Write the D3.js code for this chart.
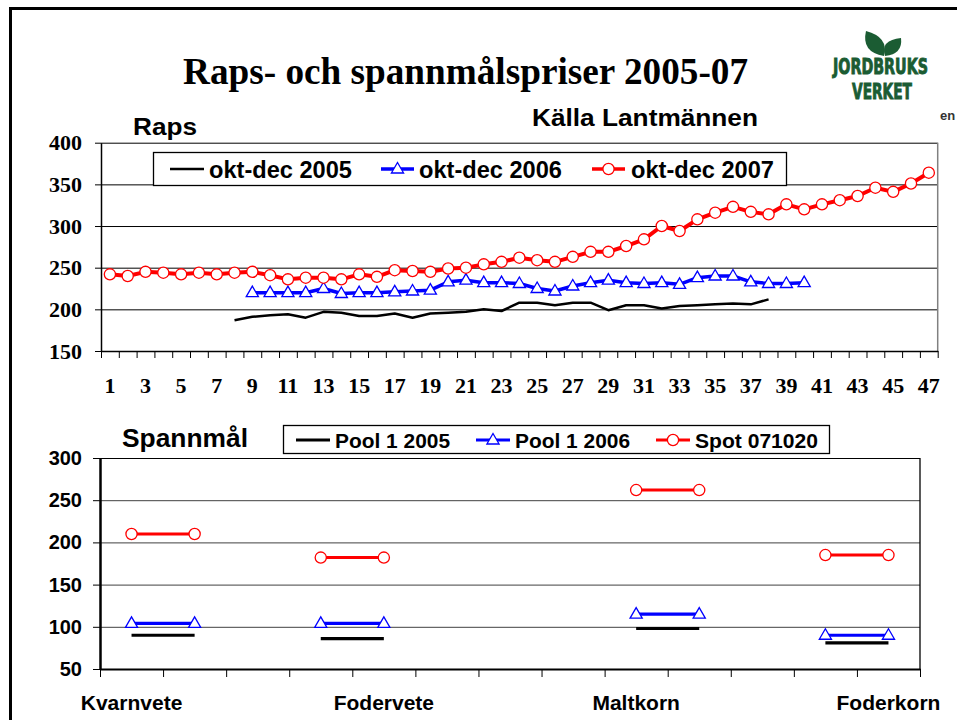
<!DOCTYPE html>
<html>
<head>
<meta charset="utf-8">
<script src="https://cdn.jsdelivr.net/npm/d3@7"></script>
<style>
  html, body { margin: 0; padding: 0; background: #fff; }
  svg { display: block; }
</style>
</head>
<body>
<div id="chart"></div>
<script>
// ---------------- DATA ----------------
const weeks = [1,2,3,4,5,6,7,8,9,10,11,12,13,14,15,16,17,18,19,20,21,22,23,24,25,26,27,28,29,30,31,32,33,34,35,36,37,38,39,40,41,42,43,44,45,46,47];
const rapsYTicks = [150, 200, 250, 300, 350, 400];
const raps2005 = [null,null,null,null,null,null,null,
  187,191,193,194,190,197,196,192,192,195,190,195,196,197,200,198,208,208,205,208,208,199,205,205,201,204,205,206,207,206,212,
  null,null,null,null,null,null,null,null,null];
const raps2006 = [null,null,null,null,null,null,null,null,
  220,220,220,220,225,219,220,220,221,222,223,233,235,232,232,231,225,222,228,232,235,232,231,232,230,238,240,240,233,231,231,232,
  null,null,null,null,null,null,null];
const raps2007 = [242,240,245,244,242,244,242,244,245,241,
  236,238,238,236,242,239,247,246,245,249,
  250,254,257,262,259,257,263,269,269,276,
  284,300,294,308,316,323,317,314,326,320,
  326,331,336,346,341,351,364];
const rapsSeriesNames = ["okt-dec 2005", "okt-dec 2006", "okt-dec 2007"];

const grainLabels = ["Kvarnvete","","","","Fodervete","","","","Maltkorn","","","","Foderkorn"];
const grainYTicks = [50, 100, 150, 200, 250, 300];
const pool2005 = [90,90,null,86,86,null,null,null,98,98,null,81,81];
const pool2006 = [104,104,null,104,104,null,null,null,115,115,null,90,90];
const spot071020 = [210,210,null,182,182,null,null,null,262,262,null,185,185];
const grainSeriesNames = ["Pool 1 2005", "Pool 1 2006", "Spot 071020"];

// ---------------- SETUP ----------------
const W = 957, H = 720;
const SANS = "'Liberation Sans', Arial, Helvetica, sans-serif";
const SERIF = "'Liberation Serif', 'Times New Roman', serif";
const NARROW = "'Liberation Sans Narrow', 'DejaVu Sans Condensed', 'Liberation Sans', Arial, sans-serif";
const RED = "#ff0000", BLUE = "#0000ff", BLACK = "#000000";

const svg = d3.select("#chart").append("svg")
  .attr("width", W).attr("height", H)
  .attr("viewBox", `0 0 ${W} ${H}`);

svg.append("rect").attr("width", W).attr("height", H).attr("fill", "#fff");

// slide frame
svg.append("path").attr("d", `M10.5,${H} V8.5 H${W}`)
  .attr("fill", "none").attr("stroke", "#000").attr("stroke-width", 3);

// Title
svg.append("text").attr("x", 183).attr("y", 84)
  .attr("font-family", SERIF).attr("font-weight", "bold").attr("font-size", 37)
  .attr("textLength", 565).attr("lengthAdjust", "spacingAndGlyphs")
  .text("Raps- och spannmålspriser 2005-07");

// Logo
const GREEN = "#1b5c33";
const logo = svg.append("g");
logo.append("path").attr("d", "M884,56 Q861,52 866,31 Q889,37 884,56 Z").attr("fill", GREEN);
logo.append("path").attr("d", "M885,56 Q880,40 901,38 Q903,54 885,56 Z").attr("fill", GREEN);
logo.append("g").attr("transform", "translate(833,74) scale(1,1.1)")
  .append("text").attr("x", 0).attr("y", 0)
  .attr("font-family", NARROW)
  .attr("font-weight", "bold").attr("font-size", 19).attr("fill", GREEN)
  .attr("stroke", GREEN).attr("stroke-width", 0.8)
  .attr("textLength", 95).attr("lengthAdjust", "spacingAndGlyphs").text("JORDBRUKS");
logo.append("g").attr("transform", "translate(852,99) scale(1,1.1)")
  .append("text").attr("x", 0).attr("y", 0)
  .attr("font-family", NARROW)
  .attr("font-weight", "bold").attr("font-size", 19).attr("fill", GREEN)
  .attr("stroke", GREEN).attr("stroke-width", 0.8)
  .attr("textLength", 60).attr("lengthAdjust", "spacingAndGlyphs").text("VERKET");

svg.append("text").attr("x", 940).attr("y", 120)
  .attr("font-family", SANS).attr("font-weight", "bold").attr("font-size", 13)
  .attr("fill", "#333").text("en");

// Source and subtitles
svg.append("text").attr("x", 532).attr("y", 126)
  .attr("font-family", SANS).attr("font-weight", "bold").attr("font-size", 24)
  .attr("textLength", 226).attr("lengthAdjust", "spacingAndGlyphs")
  .text("Källa Lantmännen");
svg.append("text").attr("x", 133).attr("y", 135)
  .attr("font-family", SANS).attr("font-weight", "bold").attr("font-size", 24)
  .attr("textLength", 64).attr("lengthAdjust", "spacingAndGlyphs")
  .text("Raps");
svg.append("text").attr("x", 122).attr("y", 447)
  .attr("font-family", SANS).attr("font-weight", "bold").attr("font-size", 25)
  .attr("textLength", 126).attr("lengthAdjust", "spacingAndGlyphs")
  .text("Spannmål");

// symbol helpers
const triPath = d3.symbol().type(d3.symbolTriangle).size(64)();
function drawTri(g, x, y, color) {
  g.append("path").attr("d", triPath).attr("transform", `translate(${x},${y + 0.5})`)
    .attr("fill", "#fff").attr("stroke", color).attr("stroke-width", 1.3);
}
function drawCirc(g, x, y, color) {
  g.append("circle").attr("cx", x).attr("cy", y).attr("r", 5.6)
    .attr("fill", "#fff").attr("stroke", color).attr("stroke-width", 1.3);
}

// ---------------- TOP CHART (Raps) ----------------
const tL = 101, tR = 937.7, tT = 142.7, tB = 351;
const xTop = d3.scaleBand().domain(weeks).range([tL, tR]).paddingInner(0).paddingOuter(0);
const xTopEdge = d3.scaleLinear().domain([0, weeks.length]).range([tL, tR]);
const yTop = d3.scaleLinear().domain([150, 400]).range([tB, tT]);

const gTop = svg.append("g");

// grid lines
gTop.append("g").attr("transform", `translate(${tL},0)`)
  .call(d3.axisLeft(yTop).tickValues(rapsYTicks.slice(1)).tickSize(-(tR - tL)).tickFormat(""))
  .call(g => g.select(".domain").remove())
  .call(g => g.selectAll("line").attr("stroke", "#000").attr("stroke-width", 1));

// right plot border
gTop.append("line").attr("x1", tR).attr("x2", tR).attr("y1", tT).attr("y2", tB)
  .attr("stroke", "#808080").attr("stroke-width", 1.5);

// y axis
gTop.append("g").attr("transform", `translate(${tL},0)`)
  .call(d3.axisLeft(yTop).tickValues(rapsYTicks).tickSize(6).tickPadding(13).tickSizeOuter(0))
  .call(g => g.select(".domain").attr("stroke", "#000").attr("stroke-width", 1.5))
  .call(g => g.selectAll("line").attr("stroke", "#000").attr("stroke-width", 1))
  .call(g => g.selectAll("text").attr("font-family", SERIF).attr("font-weight", "bold")
    .attr("font-size", 22).attr("fill", "#000"));

// x axis: tick marks at category boundaries
gTop.append("g").attr("transform", `translate(0,${tB})`)
  .call(d3.axisBottom(xTopEdge).tickValues(d3.range(weeks.length + 1)).tickSize(7).tickFormat("").tickSizeOuter(0))
  .call(g => g.select(".domain").attr("stroke", "#000").attr("stroke-width", 1.5))
  .call(g => g.selectAll("line").attr("stroke", "#000").attr("stroke-width", 1));

// x labels
gTop.append("g").attr("transform", `translate(0,${tB})`)
  .call(d3.axisBottom(xTop).tickValues(weeks.filter(w => w % 2 === 1)).tickSize(0).tickPadding(26))
  .call(g => g.select(".domain").remove())
  .call(g => g.selectAll("text").attr("font-family", SERIF).attr("font-weight", "bold")
    .attr("font-size", 22).attr("fill", "#000"));

const xc = w => xTop(w) + xTop.bandwidth() / 2;
const lineTop = d3.line().defined(d => d.v != null).x(d => xc(d.w)).y(d => yTop(d.v));
const toPts = arr => weeks.map((w, i) => ({ w, v: arr[i] }));

gTop.append("path").datum(toPts(raps2005)).attr("d", lineTop)
  .attr("fill", "none").attr("stroke", BLACK).attr("stroke-width", 2.5).attr("stroke-linejoin", "round");
gTop.append("path").datum(toPts(raps2006)).attr("d", lineTop)
  .attr("fill", "none").attr("stroke", BLUE).attr("stroke-width", 3.5).attr("stroke-linejoin", "round");
gTop.append("path").datum(toPts(raps2007)).attr("d", lineTop)
  .attr("fill", "none").attr("stroke", RED).attr("stroke-width", 4).attr("stroke-linejoin", "round");

const m06 = gTop.append("g");
toPts(raps2006).filter(d => d.v != null).forEach(d => drawTri(m06, xc(d.w), yTop(d.v), BLUE));
const m07 = gTop.append("g");
toPts(raps2007).filter(d => d.v != null).forEach(d => drawCirc(m07, xc(d.w), yTop(d.v), RED));

// top legend
const lg = svg.append("g");
lg.append("rect").attr("x", 153.5).attr("y", 152.5).attr("width", 633).attr("height", 33)
  .attr("fill", "#fff").attr("stroke", "#000").attr("stroke-width", 1.3);
const topLeg = [
  { name: rapsSeriesNames[0], color: BLACK, x1: 170, x2: 204, tx: 209, sym: null, w: 2.5, tl: 143 },
  { name: rapsSeriesNames[1], color: BLUE, x1: 381, x2: 414, tx: 419, sym: "tri", w: 3.5, tl: 143 },
  { name: rapsSeriesNames[2], color: RED, x1: 592, x2: 625, tx: 631, sym: "circ", w: 3.5, tl: 143 }
];
topLeg.forEach(d => {
  const ly = 169;
  lg.append("line").attr("x1", d.x1).attr("x2", d.x2).attr("y1", ly).attr("y2", ly)
    .attr("stroke", d.color).attr("stroke-width", d.w);
  if (d.sym === "tri") drawTri(lg, (d.x1 + d.x2) / 2, ly, d.color);
  if (d.sym === "circ") drawCirc(lg, (d.x1 + d.x2) / 2, ly, d.color);
  lg.append("text").attr("x", d.tx).attr("y", 178)
    .attr("font-family", SANS).attr("font-weight", "bold").attr("font-size", 23)
    .attr("textLength", d.tl).attr("lengthAdjust", "spacingAndGlyphs").text(d.name);
});

// ---------------- BOTTOM CHART (Spannmål) ----------------
const bL = 100, bR = 920, bT = 458, bB = 669;
const idx = d3.range(grainLabels.length);
const xBot = d3.scaleBand().domain(idx).range([bL, bR]);
const xBotEdge = d3.scaleLinear().domain([0, grainLabels.length]).range([bL, bR]);
const yBot = d3.scaleLinear().domain([50, 300]).range([bB, bT]);

const gBot = svg.append("g");

gBot.append("g").attr("transform", `translate(${bL},0)`)
  .call(d3.axisLeft(yBot).tickValues(grainYTicks.slice(1)).tickSize(-(bR - bL)).tickFormat(""))
  .call(g => g.select(".domain").remove())
  .call(g => g.selectAll("line").attr("stroke", d => d === 300 ? "#000" : "#404040").attr("stroke-width", 1));

gBot.append("line").attr("x1", bR).attr("x2", bR).attr("y1", bT).attr("y2", bB)
  .attr("stroke", "#000").attr("stroke-width", 1.3);

gBot.append("g").attr("transform", `translate(${bL},0)`)
  .call(d3.axisLeft(yBot).tickValues(grainYTicks).tickSize(7).tickPadding(11).tickSizeOuter(0))
  .call(g => g.select(".domain").attr("stroke", "#000").attr("stroke-width", 2.5))
  .call(g => g.selectAll("line").attr("stroke", "#000").attr("stroke-width", 1))
  .call(g => g.selectAll("text").attr("font-family", SANS).attr("font-weight", "bold")
    .attr("font-size", 20).attr("fill", "#000"));

gBot.append("g").attr("transform", `translate(0,${bB})`)
  .call(d3.axisBottom(xBotEdge).tickValues(d3.range(grainLabels.length + 1)).tickSize(8).tickFormat("").tickSizeOuter(0))
  .call(g => g.select(".domain").attr("stroke", "#000").attr("stroke-width", 2))
  .call(g => g.selectAll("line").attr("stroke", "#000").attr("stroke-width", 1));

gBot.append("g").attr("transform", `translate(0,${bB})`)
  .call(d3.axisBottom(xBot).tickValues(idx.filter(i => grainLabels[i] !== "")).tickSize(0).tickPadding(26)
    .tickFormat(i => grainLabels[i]))
  .call(g => g.select(".domain").remove())
  .call(g => g.selectAll("text").attr("font-family", SANS).attr("font-weight", "bold")
    .attr("font-size", 21).attr("fill", "#000"));

const xbc = i => xBot(i) + xBot.bandwidth() / 2;
const lineBot = d3.line().defined(d => d.v != null).x(d => xbc(d.i)).y(d => yBot(d.v));
const toBPts = arr => idx.map(i => ({ i, v: arr[i] }));

gBot.append("path").datum(toBPts(pool2005)).attr("d", lineBot)
  .attr("fill", "none").attr("stroke", BLACK).attr("stroke-width", 3.2);
gBot.append("path").datum(toBPts(pool2006)).attr("d", lineBot)
  .attr("fill", "none").attr("stroke", BLUE).attr("stroke-width", 3.2);
gBot.append("path").datum(toBPts(spot071020)).attr("d", lineBot)
  .attr("fill", "none").attr("stroke", RED).attr("stroke-width", 3);

const bm6 = gBot.append("g");
toBPts(pool2006).filter(d => d.v != null).forEach(d => drawTri(bm6, xbc(d.i), yBot(d.v), BLUE));
const bmS = gBot.append("g");
toBPts(spot071020).filter(d => d.v != null).forEach(d => drawCirc(bmS, xbc(d.i), yBot(d.v), RED));

// bottom legend
const bl = svg.append("g");
bl.append("rect").attr("x", 283.5).attr("y", 425.5).attr("width", 546).attr("height", 28)
  .attr("fill", "#fff").attr("stroke", "#000").attr("stroke-width", 1.3);
const botLeg = [
  { name: grainSeriesNames[0], color: BLACK, x1: 296, x2: 330, tx: 335, sym: null, tl: 115 },
  { name: grainSeriesNames[1], color: BLUE, x1: 476, x2: 510, tx: 515, sym: "tri", tl: 115 },
  { name: grainSeriesNames[2], color: RED, x1: 656, x2: 690, tx: 695, sym: "circ", tl: 123 }
];
botLeg.forEach(d => {
  const ly = 440;
  bl.append("line").attr("x1", d.x1).attr("x2", d.x2).attr("y1", ly).attr("y2", ly)
    .attr("stroke", d.color).attr("stroke-width", 3);
  if (d.sym === "tri") drawTri(bl, (d.x1 + d.x2) / 2, ly, d.color);
  if (d.sym === "circ") drawCirc(bl, (d.x1 + d.x2) / 2, ly, d.color);
  bl.append("text").attr("x", d.tx).attr("y", 447.5)
    .attr("font-family", SANS).attr("font-weight", "bold").attr("font-size", 21)
    .attr("textLength", d.tl).attr("lengthAdjust", "spacingAndGlyphs").text(d.name);
});
</script>
</body>
</html>
